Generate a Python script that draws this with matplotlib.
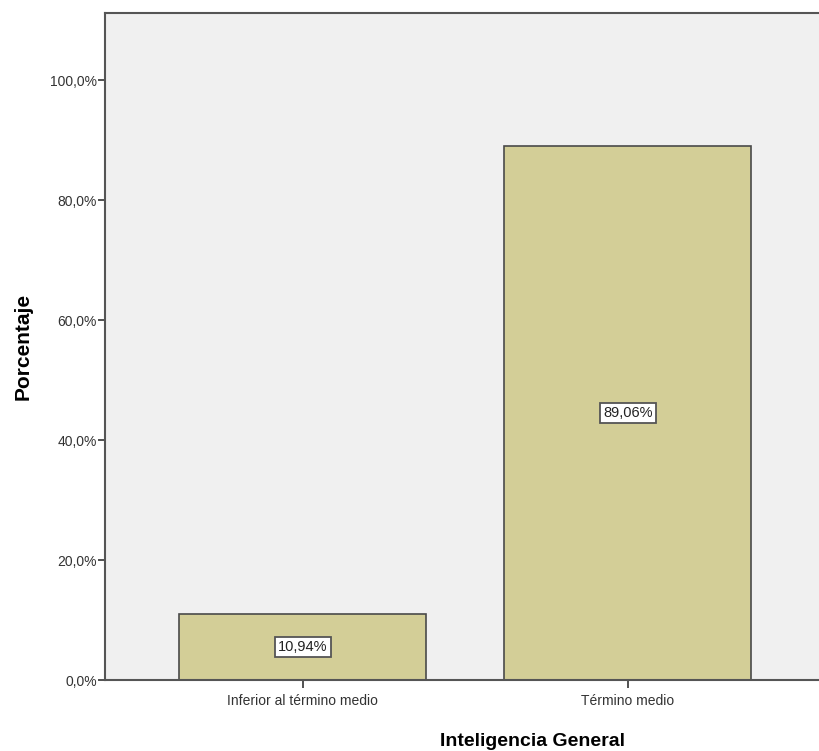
import matplotlib
matplotlib.use('Agg')
import matplotlib.pyplot as plt

# data
categorias = ["Inferior al término medio", "Término medio"]
porcentajes = [10.94, 89.06]
y_ticks = [0, 20, 40, 60, 80, 100]

plt.rcParams['font.family'] = ['Liberation Sans', 'DejaVu Sans']

fig = plt.figure(figsize=(8.2, 7.51), dpi=100)
# axes right edge runs past the figure, like the cropped original
ax = fig.add_axes([105/820, 1 - 680/751, 725/820, 667/751])
ax.set_facecolor('#F0F0F0')

x = list(range(len(categorias)))
bars = ax.bar(x, porcentajes, width=0.76, color='#D3CE97',
              edgecolor='#4a4a4a', linewidth=1.2, zorder=2)

# value labels in boxes, at the middle of each bar
for bar, val in zip(bars, porcentajes):
    ax.text(bar.get_x() + bar.get_width() / 2, val / 2,
            f"{val:.2f}%".replace('.', ','),
            ha='center', va='center', fontsize=10.5, color='#222222',
            bbox=dict(boxstyle='square,pad=0.2', facecolor='white',
                      edgecolor='#555555', linewidth=1.3), zorder=3)

ax.set_xlim(-0.609, 1.622)
ax.set_ylim(0, 111.2)
ax.set_xticks(x)
ax.set_xticklabels(categorias, fontsize=10, color='#333333')
ax.set_yticks(y_ticks)
ax.set_yticklabels([f"{v:.1f}%".replace('.', ',') for v in y_ticks],
                   fontsize=10, color='#333333')
ax.tick_params(axis='both', direction='out', length=5, width=1.2,
               colors='#333333', labelcolor='#333333')
ax.tick_params(axis='x', length=6, pad=4)
ax.tick_params(axis='y', pad=1)

for side in ['left', 'bottom', 'top']:
    ax.spines[side].set_color('#555555')
    ax.spines[side].set_linewidth(1.5)
ax.spines['right'].set_visible(False)

ax.set_ylabel("Porcentaje", fontsize=15, fontweight='bold', va='center')
ax.yaxis.set_label_coords(-(105 - 23) / 725, 0.5)
ax.set_xlabel("Inteligencia General", fontsize=14, fontweight='bold', va='center')
ax.xaxis.set_label_coords((533 - 105) / 725, -(741 - 680) / 667)

fig.savefig('out.png', dpi=100)
